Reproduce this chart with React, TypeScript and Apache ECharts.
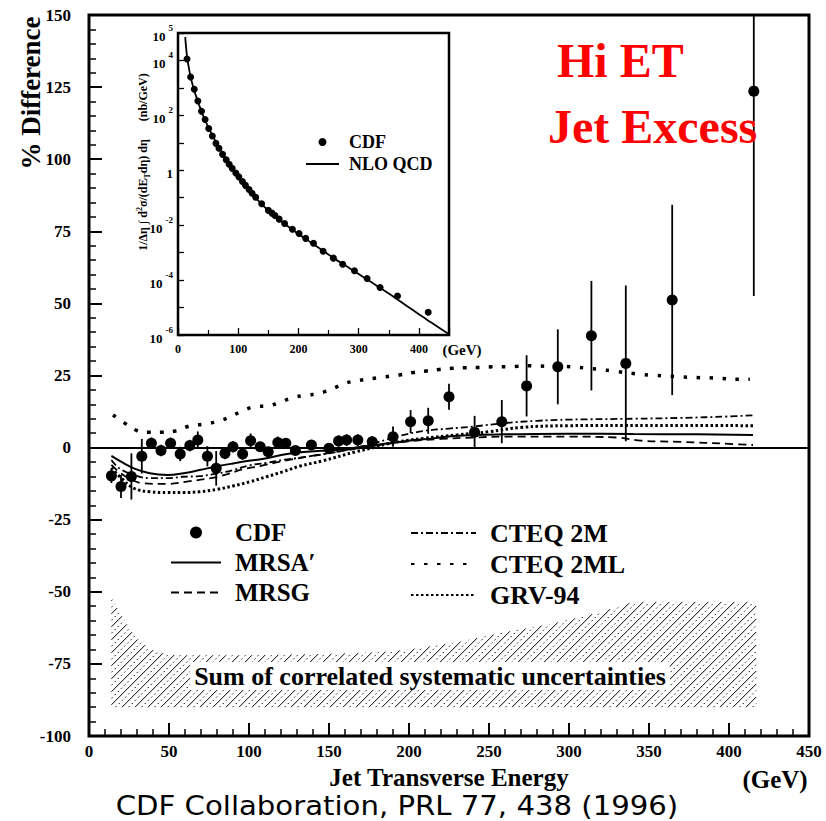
import React, { useEffect, useRef } from 'react';
import * as echarts from 'echarts';

const SERIF = '"Liberation Serif", "Times New Roman", Times, serif';
const SANS = '"DejaVu Sans", Verdana, sans-serif';

// ---- main panel axes ----
const MAIN_X_MIN = 0;
const MAIN_X_MAX = 450;
const MAIN_X_STEP = 50;
const MAIN_Y_MIN = -100;
const MAIN_Y_MAX = 150;
const MAIN_Y_STEP = 25;

// ---- CDF data: % difference from NLO QCD ----
const CDF_ET = [14, 20, 26.5, 33, 39, 45, 51, 57, 63, 68, 74, 79.5, 85, 90, 96, 101, 107, 112, 118, 123, 129, 139, 150, 156, 161, 168, 177, 190, 201, 212, 225, 241, 258, 273.5, 293, 314, 335.5, 364.5, 415.5];
const CDF_DIFF = [-9.8, -13.5, -10, -3, 1.5, -1, 1.5, -2.2, 0.7, 2.6, -3, -7.2, -2, 0.3, -2.2, 2.4, 0.3, -1.4, 1.8, 1.5, -1, 0.9, -0.2, 2.3, 2.6, 2.6, 2.0, 3.8, 9, 9.3, 17.6, 5.3, 9, 21.4, 28, 38.8, 29.2, 51.2, 123.6];
const CDF_ERR = [2.5, 4, 8, 6, 2, 2, 2, 2.5, 2, 3, 3.5, 6, 2, 2, 2, 2.5, 1.5, 1.5, 2, 1.5, 1.5, 1.5, 1.5, 2, 2, 2, 2, 3.5, 4, 4.5, 4.5, 5.7, 7.5, 10.6, 13, 19, 27, 33, 71];

// ---- theory curves: [E_T, % difference] ----
const MRSA_CURVE = [[14, -2.9], [20, -4.9], [28, -7.2], [38, -8.9], [49, -9.5], [59, -8.9], [69, -7.8], [80, -6.5], [90, -5.5], [101, -4.5], [111, -3.7], [121, -2.5], [132, -1.6], [145, -1.1], [155, -0.8], [165, -0.1], [178, 0.9], [190, 1.7], [203, 2.6], [215, 3.2], [228, 4], [240, 4.4], [260, 4.6], [300, 4.8], [340, 4.7], [380, 4.6], [415, 4.4]];
const MRSG_CURVE = [[14, -6], [20, -9], [28, -11.5], [34, -12.4], [49, -12.6], [61, -11.8], [76, -10.6], [86, -9.3], [96, -7.5], [107, -6.4], [120, -4.8], [140, -2.8], [160, -1], [180, 0.8], [200, 2.2], [220, 3], [240, 3.5], [260, 3.8], [300, 3.8], [330, 3.5], [345, 2.4], [370, 2], [400, 1.3], [415, 0.9]];
const CTEQ2M_CURVE = [[14, -4.3], [19, -7.2], [28, -9.5], [38, -10.6], [49, -10.6], [59, -10.1], [69, -9.9], [80, -9], [90, -7.8], [100, -6.2], [111, -5.3], [121, -4.3], [132, -3.5], [150, -2], [165, -0.3], [180, 1.8], [195, 4.2], [210, 5.8], [225, 6.6], [240, 7.3], [260, 8.5], [280, 9.3], [300, 9.7], [340, 10], [370, 10.3], [400, 10.8], [415, 11.2]];
const CTEQ2ML_CURVE = [[15, 11.3], [22.5, 8.4], [30, 5.9], [38, 5.3], [46, 5.3], [55, 5.9], [63, 7.5], [71.5, 8.1], [80, 9], [87.5, 10.5], [95, 12.5], [104, 14.2], [112, 14.4], [119, 15.7], [128, 17.4], [136, 18.2], [144, 18.8], [153, 20.6], [160, 22.3], [168, 23.2], [180, 24.2], [194, 25.2], [202, 26], [210, 26.5], [219, 27.1], [227, 27.5], [235, 27.7], [244, 27.8], [252, 28], [261, 28], [268, 28.2], [277, 28.4], [286, 28.2], [303, 28], [311, 27.5], [319, 27.1], [328, 26.5], [345, 25.4], [353, 25.1], [362, 24.8], [370, 24.5], [379, 24.3], [387, 24.2], [395, 24], [404, 23.7], [413, 23.7]];
const GRV_CURVE = [[14, -7], [20, -10.5], [28, -14.1], [38, -15.3], [49, -15.6], [59, -15.6], [69, -15.3], [80, -14.5], [90, -13.3], [101, -11.8], [111, -10.1], [121, -8.4], [132, -6.4], [146, -4.6], [167, -1.4], [178, 0], [188, 1.5], [209, 3.2], [230, 4.4], [250, 5.5], [270, 7], [300, 7.6], [350, 7.7], [415, 7.6]];

// ---- correlated systematic uncertainty band ----
const BAND_ET = [14, 19, 25.5, 32, 42.5, 55, 100, 150, 180, 200, 230, 260, 290, 320, 340, 417];
const BAND_UPPER = [-52, -57, -63, -67.5, -71, -72, -72, -71.5, -71, -70, -67.5, -64, -61, -57, -53.5, -53.5];
const BAND_LOWER = [-90, -90, -90, -90, -90, -90, -90, -90, -90, -90, -90, -90, -90, -90, -90, -90];

// ---- inset: cross section, exponent of 10 (nb/GeV) ----
const INSET_X_MIN = 0;
const INSET_X_MAX = 450;
const INSET_X_STEP = 100;
const INSET_Y_MIN = -6;
const INSET_Y_MAX = 5;
const INSET_Y_STEP = 1;
const INSET_Y_LABEL_EXPONENTS = [5, 4, 2, 0, -2, -4, -6];
const INSET_CDF_ET = [15, 21, 27, 33, 39, 45, 51, 57, 63, 68, 74, 80, 85, 90, 96, 101, 107, 112, 118, 123, 129, 139, 150, 156, 161, 168, 177, 190, 201, 212, 225, 241, 258, 273.5, 293, 314, 335.5, 364.5, 415.5];
const INSET_CDF_LOG10 = [4.05, 3.4, 2.95, 2.52, 2.15, 1.85, 1.52, 1.25, 0.98, 0.8, 0.58, 0.38, 0.22, 0.07, -0.1, -0.24, -0.41, -0.55, -0.7, -0.84, -0.98, -1.22, -1.46, -1.56, -1.65, -1.78, -1.94, -2.15, -2.3, -2.48, -2.66, -2.95, -3.2, -3.42, -3.66, -3.94, -4.27, -4.58, -5.17];
const NLO_ET = [12, 15, 20, 25, 30, 35, 40, 50, 60, 70, 80, 90, 100, 120, 140, 160, 180, 200, 220, 240, 260, 280, 300, 320, 340, 360, 380, 400, 420, 450];
const NLO_LOG10 = [4.85, 4.15, 3.5, 3.05, 2.7, 2.38, 2.08, 1.58, 1.15, 0.76, 0.4, 0.07, -0.24, -0.78, -1.26, -1.66, -2.0, -2.32, -2.62, -2.92, -3.22, -3.5, -3.78, -4.06, -4.34, -4.64, -4.94, -5.24, -5.54, -5.97];

const axisText = { color: '#000', fontFamily: SERIF, fontWeight: 'bold' as const };

function hatchRenderItem(_params: any, api: any) {
  const top = BAND_ET.map((x, i) => api.coord([x, BAND_UPPER[i]]));
  const bot = BAND_ET.map((x, i) => api.coord([x, BAND_LOWER[i]])).reverse();
  const poly = top.concat(bot);
  let minS = Infinity;
  let maxS = -Infinity;
  poly.forEach((p: number[]) => {
    minS = Math.min(minS, p[0] + p[1]);
    maxS = Math.max(maxS, p[0] + p[1]);
  });
  const children: any[] = [];
  const step = 6.5;
  let k = 0;
  for (let c = minS + step / 2; c < maxS; c += step, k++) {
    const hits: number[] = [];
    for (let i = 0; i < poly.length; i++) {
      const a = poly[i];
      const b = poly[(i + 1) % poly.length];
      const fa = a[0] + a[1] - c;
      const fb = b[0] + b[1] - c;
      if ((fa < 0 && fb >= 0) || (fa >= 0 && fb < 0)) {
        const t = fa / (fa - fb);
        hits.push(a[0] + (b[0] - a[0]) * t);
      }
    }
    hits.sort((p, q) => p - q);
    for (let j = 0; j + 1 < hits.length; j += 2) {
      const x1 = hits[j];
      const x2 = hits[j + 1];
      children.push({
        type: 'line',
        shape: { x1, y1: c - x1, x2, y2: c - x2 },
        style: { stroke: '#000', lineWidth: 1, lineDash: k % 2 ? [1.5, 3] : null },
        silent: true,
      });
    }
  }
  return { type: 'group', children };
}

function errorBarRenderItem(_params: any, api: any) {
  const x = api.value(0);
  const y = api.value(1);
  const e = api.value(2);
  const p1 = api.coord([x, Math.min(y + e, MAIN_Y_MAX)]);
  const p2 = api.coord([x, Math.max(y - e, MAIN_Y_MIN)]);
  return {
    type: 'line',
    shape: { x1: p1[0], y1: p1[1], x2: p2[0], y2: p2[1] },
    style: { stroke: '#000', lineWidth: 1.8 },
  };
}

function lineSeries(name: string, data: number[][], lineStyle: any, extra: any = {}) {
  return {
    name,
    type: 'line',
    xAxisIndex: 0,
    yAxisIndex: 0,
    data,
    smooth: 0.4,
    symbol: 'none',
    lineStyle: { color: '#000', ...lineStyle },
    itemStyle: { color: '#000' },
    z: 3,
    ...extra,
  };
}

const lineLegendItem = (name: string) => ({ name, itemStyle: { opacity: 0 } });

const option: any = {
  animation: false,
  backgroundColor: '#fff',
  grid: [
    { left: 89, top: 15, width: 720, height: 721, show: true, borderColor: '#000', borderWidth: 3, backgroundColor: 'transparent', containLabel: false, outerBoundsMode: 'none' },
    { left: 178, top: 33, width: 271, height: 302, show: true, borderColor: '#000', borderWidth: 2.5, backgroundColor: '#fff', containLabel: false, outerBoundsMode: 'none' },
  ],
  xAxis: [
    {
      type: 'value', gridIndex: 0, min: MAIN_X_MIN, max: MAIN_X_MAX, interval: MAIN_X_STEP, position: 'bottom',
      axisLine: { show: false, onZero: false },
      axisTick: { show: true, inside: true, length: 13, lineStyle: { color: '#000', width: 2 } },
      minorTick: { show: true, splitNumber: 5, length: 7, lineStyle: { color: '#000', width: 1.5 } },
      splitLine: { show: false },
      axisLabel: { ...axisText, fontSize: 17, margin: 7, hideOverlap: false },
      name: 'Jet Transverse Energy', nameLocation: 'middle', nameGap: 25,
      nameTextStyle: { ...axisText, fontSize: 25 },
    },
    {
      type: 'value', gridIndex: 1, min: INSET_X_MIN, max: INSET_X_MAX, interval: INSET_X_STEP, position: 'bottom',
      axisLine: { show: false, onZero: false },
      axisTick: { show: true, inside: true, length: 7, lineStyle: { color: '#000', width: 1.3 } },
      minorTick: { show: true, splitNumber: 2, length: 5, lineStyle: { color: '#000', width: 1.2 } },
      splitLine: { show: false },
      axisLabel: { ...axisText, fontSize: 12, margin: 8, hideOverlap: false, showMaxLabel: false },
    },
  ],
  yAxis: [
    {
      type: 'value', gridIndex: 0, min: MAIN_Y_MIN, max: MAIN_Y_MAX, interval: MAIN_Y_STEP, position: 'left',
      axisLine: { show: false, onZero: false },
      axisTick: { show: true, inside: true, length: 13, lineStyle: { color: '#000', width: 2 } },
      minorTick: { show: true, splitNumber: 5, length: 7, lineStyle: { color: '#000', width: 1.5 } },
      splitLine: { show: false },
      axisLabel: { ...axisText, fontSize: 17, margin: 18, hideOverlap: false },
    },
    {
      type: 'value', gridIndex: 1, min: INSET_Y_MIN, max: INSET_Y_MAX, interval: INSET_Y_STEP, position: 'left',
      axisLine: { show: false, onZero: false },
      axisTick: { show: true, inside: true, length: 6, lineStyle: { color: '#000', width: 1.3 } },
      minorTick: { show: false },
      splitLine: { show: false },
      axisLabel: {
        margin: 5,
        hideOverlap: false,
        formatter: (v: number) => {
          const e = Math.round(v);
          if (!INSET_Y_LABEL_EXPONENTS.includes(e)) return '';
          if (e === 0) return '{b|1}';
          return `{b|10}{s|${e}}`;
        },
        rich: {
          b: { ...axisText, fontSize: 13, lineHeight: 19, verticalAlign: 'bottom' },
          s: { ...axisText, fontSize: 9, lineHeight: 19, verticalAlign: 'top', padding: [0, 0, 0, 3] },
        },
      },
    },
  ],
  legend: [
    {
      left: 165, top: 515, orient: 'vertical', itemWidth: 50, itemHeight: 12, itemGap: 5,
      selectedMode: false,
      data: ['CDF', lineLegendItem('MRSA\u2032'), lineLegendItem('MRSG')],
      textStyle: { ...axisText, fontSize: 25, padding: [0, 0, 0, 9] },
    },
    {
      left: 405, top: 515, orient: 'vertical', itemWidth: 65, itemHeight: 12, itemGap: 5,
      selectedMode: false,
      data: [lineLegendItem('CTEQ 2M'), lineLegendItem('CTEQ 2ML'), lineLegendItem('GRV-94')],
      textStyle: { ...axisText, fontSize: 26, padding: [0, 0, 0, 9] },
    },
    {
      left: 300, top: 128, orient: 'vertical', itemWidth: 33, itemHeight: 8, itemGap: 4,
      selectedMode: false,
      data: ['CDF', lineLegendItem('NLO QCD')],
      textStyle: { ...axisText, fontSize: 18, padding: [0, 0, 0, 5] },
    },
  ],
  graphic: [
    {
      type: 'text', x: 31, y: 93, rotation: Math.PI / 2, z: 100,
      style: { text: '% Difference', fill: '#000', font: `bold 27px ${SERIF}`, align: 'center', verticalAlign: 'middle' },
    },
    {
      type: 'text', x: 775, y: 779, z: 100,
      style: { text: '(GeV)', fill: '#000', font: `bold 25px ${SERIF}`, align: 'center', verticalAlign: 'middle' },
    },
    {
      type: 'text', x: 557, y: 60, z: 100,
      style: { text: 'Hi ET', fill: '#ff0000', font: `bold 48px ${SERIF}`, align: 'left', verticalAlign: 'middle' },
    },
    {
      type: 'text', x: 548, y: 126, z: 100,
      style: { text: 'Jet Excess', fill: '#ff0000', font: `bold 48px ${SERIF}`, align: 'left', verticalAlign: 'middle' },
    },
    {
      type: 'text', x: 430, y: 676, z: 100,
      style: {
        text: 'Sum of correlated systematic uncertainties', fill: '#000', font: `bold 26px ${SERIF}`,
        align: 'center', verticalAlign: 'middle', backgroundColor: '#fff', padding: [1, 4],
      },
    },
    {
      type: 'text', x: 462, y: 350, z: 100,
      style: { text: '(GeV)', fill: '#000', font: `bold 15px ${SERIF}`, align: 'center', verticalAlign: 'middle' },
    },
    {
      type: 'text', x: 143, y: 162, rotation: Math.PI / 2, z: 100,
      style: {
        text: '1/\u0394\u03b7 \u222b d{sup|2}\u03c3/(dE{sub|T}d\u03b7) d\u03b7      (nb/GeV)',
        fill: '#000', font: `bold 12px ${SERIF}`, align: 'center', verticalAlign: 'middle',
        rich: {
          sup: { fontSize: 8, fontWeight: 'bold', fontFamily: SERIF, verticalAlign: 'top', lineHeight: 16, fill: '#000' },
          sub: { fontSize: 8, fontWeight: 'bold', fontFamily: SERIF, verticalAlign: 'bottom', lineHeight: 16, fill: '#000' },
        },
      },
    },
    {
      type: 'text', x: 397, y: 806, scaleX: 1.08, z: 100,
      style: { text: 'CDF Collaboration, PRL 77, 438 (1996)', fill: '#000', font: `27px ${SANS}`, align: 'center', verticalAlign: 'middle' },
    },
  ],
  series: [
    {
      name: 'Systematic band', type: 'custom', xAxisIndex: 0, yAxisIndex: 0,
      data: [[BAND_ET[0], BAND_UPPER[0]]], renderItem: hatchRenderItem, silent: true, z: 1,
    },
    lineSeries('MRSA\u2032', MRSA_CURVE, { width: 2, type: 'solid' }, {
      markLine: {
        silent: true, symbol: ['none', 'none'], label: { show: false },
        lineStyle: { color: '#000', width: 2, type: 'solid' }, data: [{ yAxis: 0 }],
      },
    }),
    lineSeries('MRSG', MRSG_CURVE, { width: 1.8, type: [8, 5] }),
    lineSeries('CTEQ 2M', CTEQ2M_CURVE, { width: 1.8, type: [7, 3, 2, 3] }),
    lineSeries('CTEQ 2ML', CTEQ2ML_CURVE, { width: 3.5, type: [3.5, 9.5] }),
    lineSeries('GRV-94', GRV_CURVE, { width: 3, type: [2.5, 2.5] }),
    {
      name: 'CDF errors', type: 'custom', xAxisIndex: 0, yAxisIndex: 0,
      data: CDF_ET.map((x, i) => [x, CDF_DIFF[i], CDF_ERR[i]]),
      renderItem: errorBarRenderItem, silent: true, z: 4,
    },
    {
      name: 'CDF', type: 'scatter', xAxisIndex: 0, yAxisIndex: 0,
      data: CDF_ET.map((x, i) => [x, CDF_DIFF[i]]),
      symbol: 'circle', symbolSize: 11, itemStyle: { color: '#000', opacity: 1 }, z: 5,
    },
    {
      name: 'NLO QCD', type: 'line', xAxisIndex: 1, yAxisIndex: 1,
      data: NLO_ET.map((x, i) => [x, NLO_LOG10[i]]),
      smooth: 0.3, symbol: 'none', lineStyle: { color: '#000', width: 1.8 }, itemStyle: { color: '#000' }, z: 3,
    },
    {
      name: 'CDF', type: 'scatter', xAxisIndex: 1, yAxisIndex: 1,
      data: INSET_CDF_ET.map((x, i) => [x, INSET_CDF_LOG10[i]]),
      symbol: 'circle', symbolSize: 7, itemStyle: { color: '#000', opacity: 1 }, z: 4,
    },
  ],
};

export default function App() {
  const ref = useRef<HTMLDivElement>(null);
  useEffect(() => {
    if (!ref.current) return;
    const chart = echarts.init(ref.current, undefined, { renderer: 'svg' });
    chart.setOption(option);
    return () => chart.dispose();
  }, []);
  return (
    <div
      ref={ref}
      style={{ position: 'fixed', left: 0, top: 0, width: 826, height: 821, background: '#fff' }}
    />
  );
}
